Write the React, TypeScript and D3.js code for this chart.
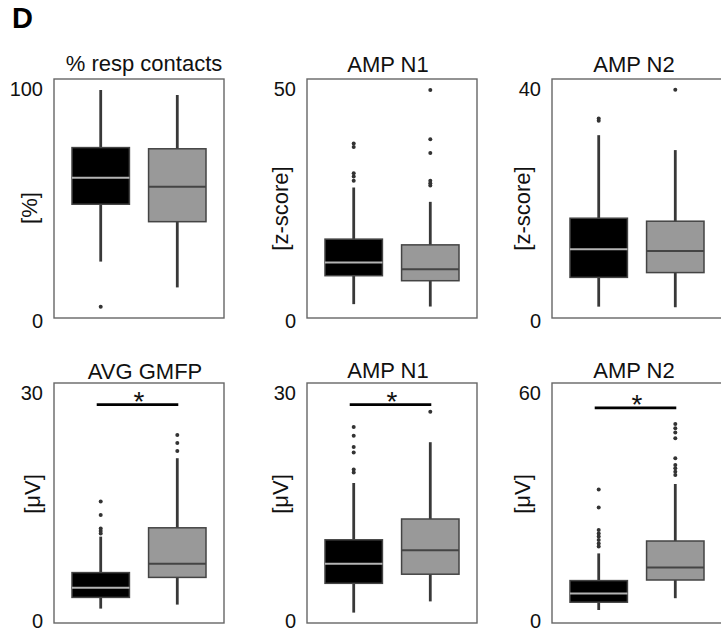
import React from "react";
import * as d3 from "d3";

const titles = ["% resp contacts", "AMP N1", "AMP N2", "AVG GMFP", "AMP N1", "AMP N2"];
const yLabels = ["[%]", "[z-score]", "[z-score]", "[\u03bcV]", "[\u03bcV]", "[\u03bcV]"];
const yMax = [100, 50, 40, 30, 30, 60];
const groups = ["g1", "g2"];

// per panel: [group1, group2]
const whiskerLow = [[23.6, 12.8], [2.9, 2.4], [1.9, 1.8], [1.8, 2.3], [1.3, 2.7], [3.25, 6.2]];
const q1 = [[47.6, 40.3], [8.85, 7.8], [6.8, 7.6], [3.2, 5.7], [4.96, 6.1], [5.2, 10.75]];
const median = [[58.7, 54.9], [11.6, 10.2], [11.5, 11.2], [4.4, 7.4], [7.4, 9.1], [7.4, 13.9]];
const q3 = [[71.3, 70.8], [16.5, 15.3], [16.7, 16.2], [6.3, 11.9], [10.4, 13.0], [10.6, 20.5]];
const whiskerHigh = [[95.4, 93.3], [27.3, 24.3], [30.6, 28.1], [10.8, 20.6], [17.5, 22.6], [17.4, 34.75]];
const outliers = [
  [[4.7], []],
  [[28.7, 29.6, 30.3, 35.8, 36.5], [27.7, 28.2, 28.7, 34.5, 37.4, 47.7]],
  [[33.0, 33.4], [38.2]],
  [[11.2, 11.5, 11.8, 13.5, 15.2], [21.5, 22.5, 23.5]],
  [[18.8, 19.2, 21.3, 22.0, 23.4, 24.5], [26.4]],
  [[19.1, 19.9, 20.75, 21.6, 22.4, 23.25, 28.9, 33.4], [37.0, 37.8, 38.7, 39.5, 41.2, 46.2, 47.6, 48.7, 49.75]],
];
const sigLevel = [null, null, null, 27.3, 27.3, 53.8];

// layout (not data)
const panelLefts = [54, 307, 552, 54, 307, 552];
const rowTops = [79, 79, 79, 383, 383, 383];
const rowHeights = [239, 239, 239, 240, 240, 240];
const panelW = 170;
const titleDx = [5, -4, -3, 6, -4, -3];
const titleGap = [8, 7, 7, 4, 5, 5];
const labelDx = [-17, -19, -22, -14, -19, -22];
const labelDy = [9.5, 10, 10, -9, -9, -9];

const FONT = "'Liberation Sans', Arial, Helvetica, sans-serif";
const boxFill = ["#000000", "#999999"];
const medianColor = ["#b4b4b4", "#444444"];

function Panel({ i }: { i: number }) {
  const left = panelLefts[i];
  const top = rowTops[i];
  const h = rowHeights[i];
  const bottom = top + h;
  const x = d3.scalePoint<string>().domain(groups).range([left, left + panelW]).padding(0.61);
  const y = d3.scaleLinear().domain([0, yMax[i]]).range([bottom, top]);
  const bw = x.step() * 0.75;
  const ticks = [0, yMax[i]];
  return (
    <g>
      <text x={left + panelW / 2 + titleDx[i]} y={top - titleGap[i]} textAnchor="middle" fontSize={22} fontFamily={FONT} fill="#111">
        {titles[i]}
      </text>
      {ticks.map((t) => (
        <text key={t} x={left - 11} y={t === 0 ? y(t) + (i < 3 ? 9.5 : 5) : y(t) + 17} textAnchor="end" fontSize={20} fontFamily={FONT} fill="#111">
          {t}
        </text>
      ))}
      <text
        transform={`translate(${left + labelDx[i]},${top + h / 2 + labelDy[i]}) rotate(-90)`}
        textAnchor="middle"
        fontSize={22}
        fontFamily={FONT}
        fill="#111"
      >
        {yLabels[i]}
      </text>
      <rect x={left} y={top} width={panelW} height={h} fill="none" stroke="#666" strokeWidth={1.4} />
      {groups.map((g, j) => {
        const cx = x(g) as number;
        return (
          <g key={g}>
            <line x1={cx} x2={cx} y1={y(whiskerHigh[i][j])} y2={y(whiskerLow[i][j])} stroke="#383838" strokeWidth={2.8} />
            <rect
              x={cx - bw / 2}
              y={y(q3[i][j])}
              width={bw}
              height={y(q1[i][j]) - y(q3[i][j])}
              fill={boxFill[j]}
              stroke="#444"
              strokeWidth={1.5}
            />
            <line x1={cx - bw / 2} x2={cx + bw / 2} y1={y(median[i][j])} y2={y(median[i][j])} stroke={medianColor[j]} strokeWidth={2} />
            {outliers[i][j].map((v, k) => (
              <circle key={k} cx={cx} cy={y(v)} r={2} fill="#333" />
            ))}
          </g>
        );
      })}
      {sigLevel[i] !== null && (
        <g>
          <line
            x1={(x(groups[0]) as number) - 4}
            x2={(x(groups[1]) as number) + 1}
            y1={y(sigLevel[i] as number)}
            y2={y(sigLevel[i] as number)}
            stroke="#000"
            strokeWidth={2.8}
          />
          <text
            x={((x(groups[0]) as number) + (x(groups[1]) as number)) / 2}
            y={y(sigLevel[i] as number) + 6.5}
            textAnchor="middle"
            fontSize={28}
            fontFamily={FONT}
            fill="#111"
          >
            *
          </text>
        </g>
      )}
    </g>
  );
}

export default function App() {
  return (
    <svg width={721} height={633} style={{ position: "absolute", left: 0, top: 0, background: "#fff" }}>
      <rect x={0} y={0} width={721} height={633} fill="#fff" />
      <text x={12} y={28} fontSize={29} fontWeight="bold" fontFamily={FONT} fill="#000">
        D
      </text>
      {titles.map((_, i) => (
        <Panel key={i} i={i} />
      ))}
    </svg>
  );
}
